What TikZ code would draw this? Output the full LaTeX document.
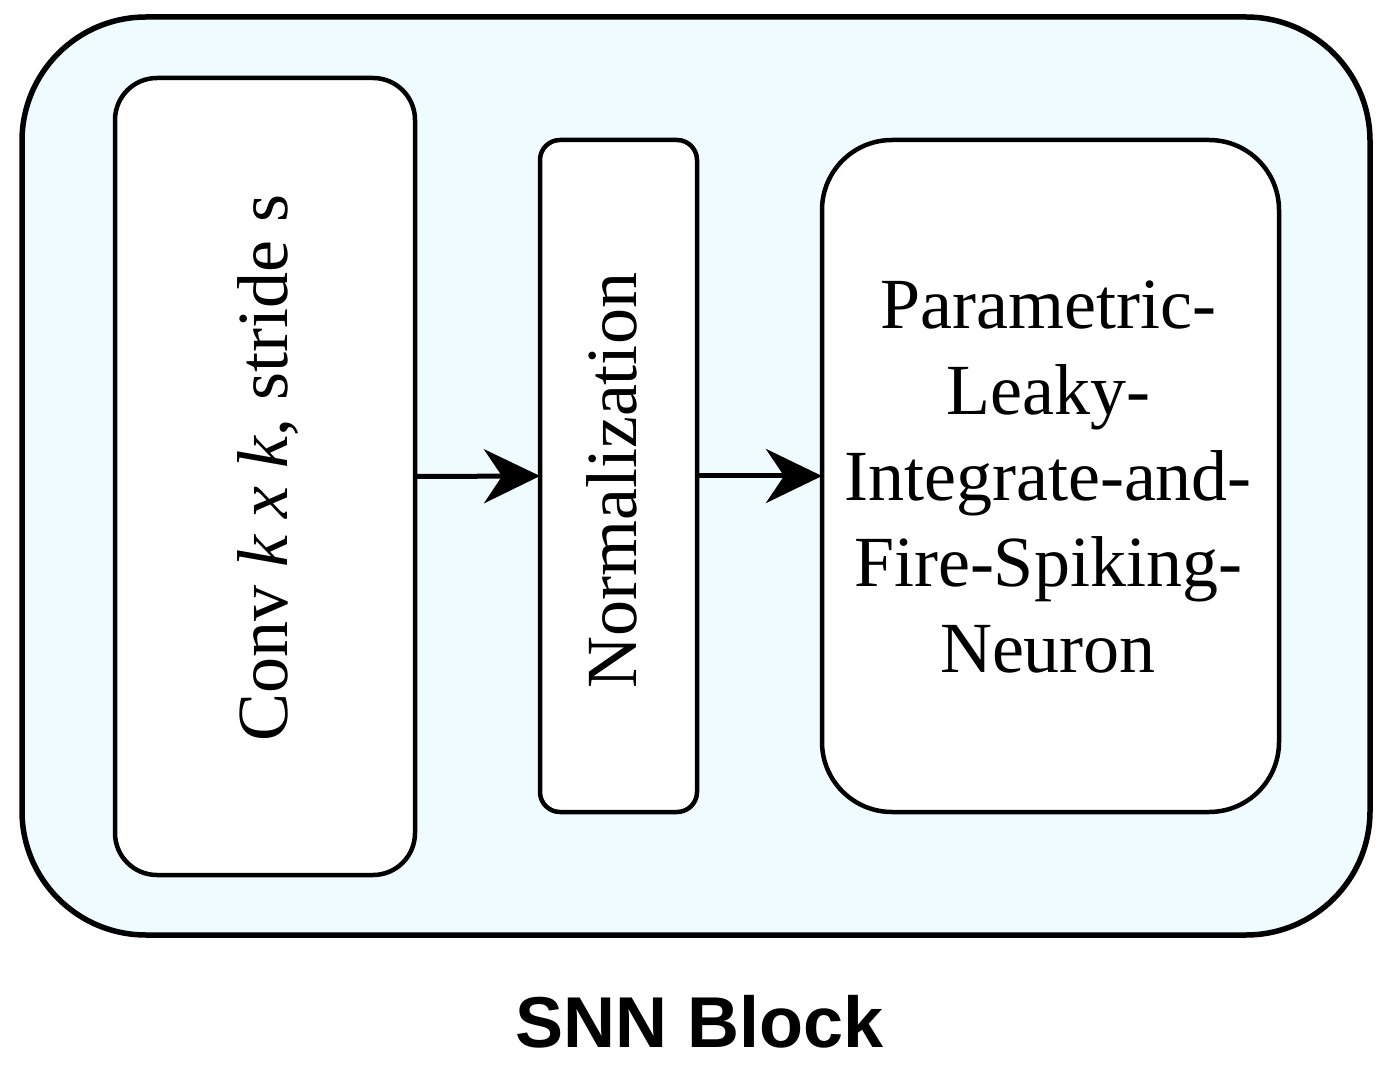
\documentclass[tikz,border=0pt]{standalone}
\usepackage{fontspec}
\setmainfont{Liberation Serif}
\newfontfamily\labelsans{Liberation Sans}
\usetikzlibrary{arrows.meta}
\definecolor{blockfill}{RGB}{240,251,255}
\begin{document}
\begin{tikzpicture}[x=0.5pt,y=-0.5pt,
  outerbox/.style={draw=black,line width=2.75pt,fill=blockfill,rounded corners=62pt,rectangle,inner sep=0pt,outer sep=0pt},
  innerbox/.style={draw=black,line width=2.25pt,fill=white,rectangle,inner sep=0pt,outer sep=0pt},
  bigtext/.style={font=\fontsize{36}{43}\selectfont,inner sep=0pt,align=center},
  flow/.style={line width=2.5pt,-{Stealth[length=28pt,width=27pt,inset=9pt]}}]
\useasboundingbox (0,0) rectangle (1387,1069);
\node[outerbox,minimum width=674pt,minimum height=459pt] (outer) at (696,476) {};
\node[innerbox,rounded corners=21pt,minimum width=150pt,minimum height=398.5pt] (conv) at (265,476.5) {};
\node[innerbox,rounded corners=10pt,minimum width=78.5pt,minimum height=336pt] (norm) at (618.5,476) {};
\node[innerbox,rounded corners=35pt,minimum width=228.5pt,minimum height=336pt] (plif) at (1050.5,476) {};
\node[bigtext,rotate=90] (convtext) at (268,468) {Conv \textit{k x k}, stride s};
\node[bigtext,rotate=90] (normtext) at (612,481) {Normalization};
\node[bigtext] (pliftext) at (1048,477) {Parametric-\\Leaky-\\Integrate-and-\\Fire-Spiking-\\Neuron};
\draw[flow] (conv.east) -- (norm.west);
\draw[flow] (norm.east) -- (plif.west);
\node[font=\labelsans\bfseries\fontsize{36}{43}\selectfont,inner sep=0pt] (title) at (700,1022) {SNN Block};
\end{tikzpicture}
\end{document}
